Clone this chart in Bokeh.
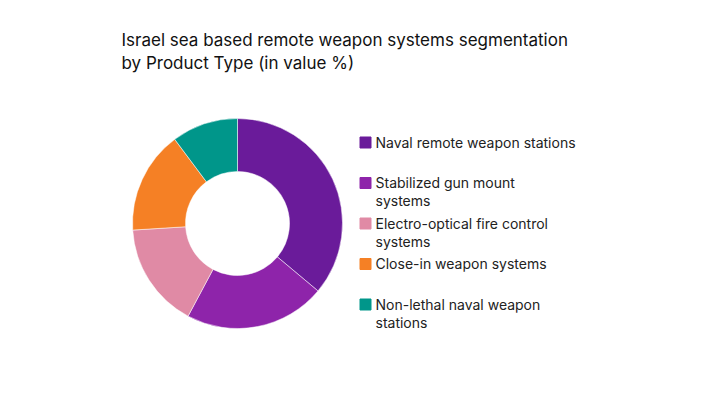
import numpy as np
from bokeh.plotting import figure
from bokeh.models import Range1d, ColumnDataSource
from bokeh.core.properties import value
from bokeh.embed import file_html
from bokeh.resources import INLINE

# product type shares (value %)
segments = ["Naval remote weapon stations",
            "Stabilized gun mount\nsystems",
            "Electro-optical fire control\nsystems",
            "Close-in weapon systems",
            "Non-lethal naval weapon\nstations"]
shares = [36.1, 21.7, 16.2, 15.8, 10.2]
colors = ["#6A1B9A", "#8E24AA", "#E08AA5", "#F58025", "#00968A"]

title = "Israel sea based remote weapon systems segmentation\nby Product Type (in value %)"

W, H = 687, 399
p = figure(width=W, height=H, x_range=Range1d(0, W), y_range=Range1d(0, H),
           output_backend="svg", toolbar_location=None, min_border=0)
p.axis.visible = False
p.grid.visible = False
p.outline_line_color = None

# donut, clockwise from 12 o'clock
frac = np.array(shares) / sum(shares)
ends = np.pi / 2 - 2 * np.pi * np.cumsum(frac)
starts = np.concatenate([[np.pi / 2], ends[:-1]])
src = ColumnDataSource(dict(start=starts, end=ends, color=colors, name=segments))
p.annular_wedge(x=237, y=H - 223, inner_radius=52, outer_radius=105,
                start_angle="start", end_angle="end", direction="clock",
                color="color", line_color="white", line_width=0.5, source=src)

# legend drawn by hand (labels wrap)
ly = [H - (142 + i * 40.5) for i in range(len(segments))]
p.rect(x=[365] * len(segments), y=ly, width=11, height=11, color=colors)
p.text(x=[375] * len(segments), y=[v + 9 for v in ly], text=segments,
       text_font=value("Inter"), text_font_size="14px", text_color="#222222",
       text_baseline="top", text_align="left", text_line_height=1.07)

# title
p.text(x=[121], y=[H - 29], text=[title], text_font=value("Inter"),
       text_font_size="17px", text_color="#111111", text_baseline="top",
       text_align="left", text_line_height=1.15)

open("out.html", "w").write(file_html(p, INLINE))
